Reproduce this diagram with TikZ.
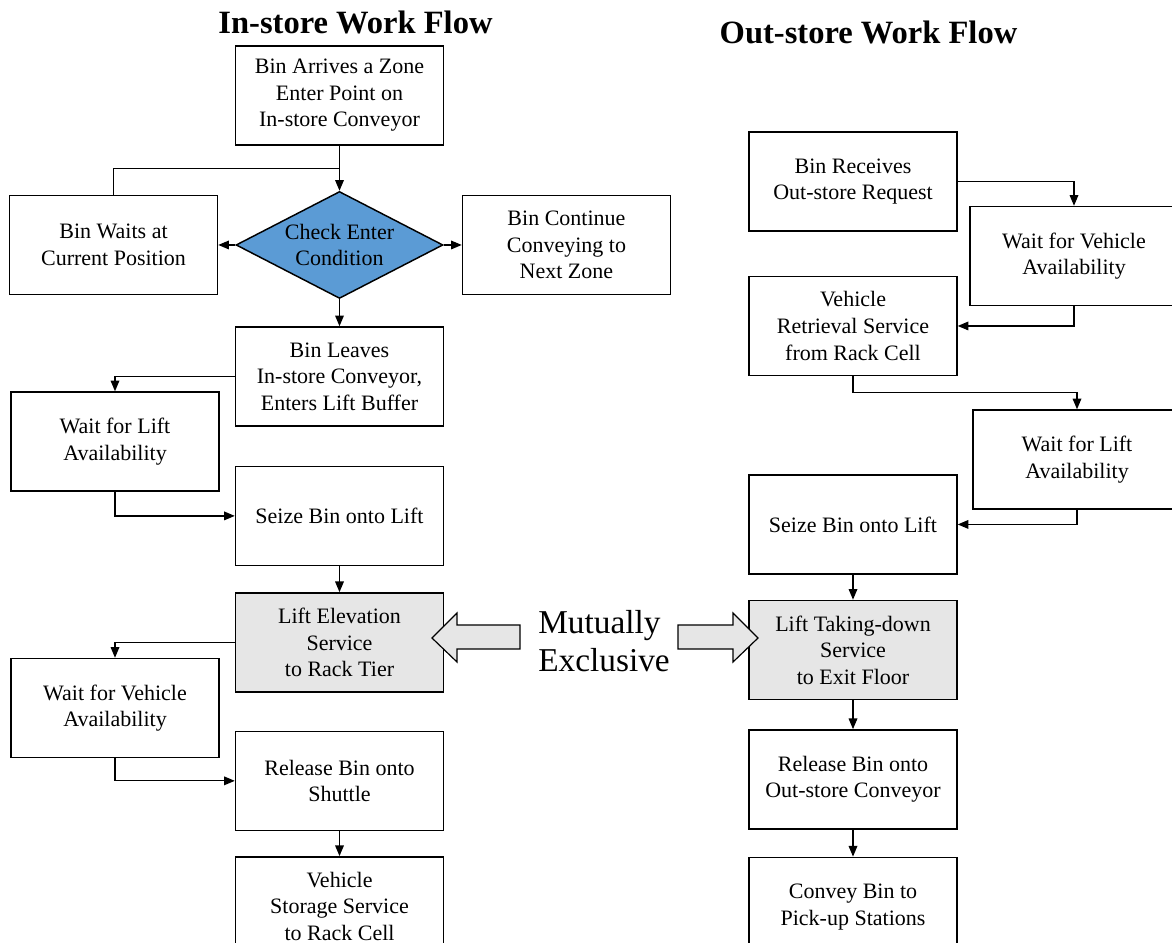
\documentclass[tikz,border=0pt]{standalone}
\usepackage{fontspec}
\setmainfont{Liberation Serif}
\usetikzlibrary{arrows.meta,positioning,shapes.geometric,calc}
\definecolor{decblue}{HTML}{5B9BD5}
\definecolor{boxgray}{HTML}{E6E6E6}
\tikzset{
  >={Triangle[length=8pt,width=6.5pt]},
  line/.style      = {->, line width=0.9pt},
  link/.style      = {line width=0.9pt},
  block/.style     = {rectangle, draw, line width=1.1pt, align=center, inner sep=2pt, minimum width=156pt, minimum height=74.25pt, fill=white, font=\fontsize{16.5pt}{19.9pt}\selectfont},
  grayblock/.style = {block, fill=boxgray},
  decision/.style  = {diamond, draw, line width=1.1pt, fill=decblue, minimum width=155.25pt, minimum height=80.25pt, inner sep=0pt},
  heading/.style   = {font=\fontsize{24.4pt}{28pt}\selectfont\bfseries},
  bigtext/.style   = {align=left, inner sep=0pt, font=\fontsize{25pt}{29pt}\selectfont},
  hollow/.style    = {draw, line width=0.9pt, fill=boxgray}
}

\begin{document}
\begin{tikzpicture}[x=0.75pt, y=-0.75pt]
\useasboundingbox (0,0) rectangle (1172,943);

% Titles
\node[heading, anchor=base] (tin) at (355.5,33) {In-store Work Flow};
\node[heading, anchor=base] (tout) at (868.5,43) {Out-store Work Flow};


% In-store column
\node[block] (arr) at (339.5,95.5) {Bin Arrives a Zone\\Enter Point on\\In-store Conveyor};
\node[decision, below=33.75pt of arr, label={[align=center, font=\fontsize{16.5pt}{19.9pt}\selectfont]center:Check Enter\\Condition}] (chk) {};
\node[block, left=12.75pt of chk] (hold) {Bin Waits at\\Current Position};
\node[block, right=13.5pt of chk] (next) {Bin Continue\\Conveying to\\Next Zone};
\node[block, below=20.25pt of chk] (leave) {Bin Leaves\\In-store Conveyor,\\Enters Lift Buffer};
\node[block, below=29.25pt of leave] (seizeL) {Seize Bin onto Lift};
\node[grayblock, below=19.5pt of seizeL] (liftL) {Lift Elevation\\Service\\to Rack Tier};
\node[block, below=28.5pt of liftL] (relL) {Release Bin onto\\Shuttle};
\node[block, below=18.75pt of relL] (storeL) {Vehicle\\Storage Service\\to Rack Cell};

% In-store waits
\node[block] (wliftL) at (115,441.5) {Wait for Lift\\Availability};
\node[block] (wvehL) at (115,708) {Wait for Vehicle\\Availability};


% Out-store column
\node[block] (recv) at (853,181.5) {Bin Receives\\Out-store Request};
\node[block, below=33pt of recv] (retr) {Vehicle\\Retrieval Service\\from Rack Cell};
\node[block, below=73.5pt of retr] (seizeR) {Seize Bin onto Lift};
\node[grayblock, below=18.75pt of seizeR] (liftR) {Lift Taking-down\\Service\\to Exit Floor};
\node[block, below=21.75pt of liftR] (relR) {Release Bin onto\\Out-store Conveyor};
\node[block, below=20.25pt of relR] (convR) {Convey Bin to\\Pick-up Stations};

% Out-store waits
\node[block] (wvehR) at (1074,256) {Wait for Vehicle\\Availability};
\node[block] (wliftR) at (1077,459.5) {Wait for Lift\\Availability};


% Middle note
\node[bigtext, anchor=west] (mutex) at (538,641) {Mutually\\Exclusive};
\draw[hollow] (432,638) -- ++(25,-25) -- ++(0,12) -- ++(63,0) -- ++(0,24) -- ++(-63,0) -- ++(0,13) -- cycle;
\draw[hollow] (758,638) -- ++(-25,-25) -- ++(0,12) -- ++(-55,0) -- ++(0,24) -- ++(55,0) -- ++(0,13) -- cycle;


% Connections in-store
\draw[line] (arr) -- (chk);
\draw[link] (hold.north) |- ($(arr.south)!.5!(chk.north)$);
\draw[line] (chk) -- (hold);
\draw[line] (chk) -- (next);
\draw[line] (chk) -- (leave);
\draw[line] (leave.west) -| (wliftL.north);
\draw[line] (wliftL.south) |- (seizeL.west);
\draw[line] (seizeL) -- (liftL);
\draw[line] (liftL.west) -| (wvehL.north);
\draw[line] (wvehL.south) |- (relL.west);
\draw[line] (relL) -- (storeL);

% Connections out-store
\draw[line] (recv.east) -| (wvehR.north);
\draw[line] (wvehR.south) |- (retr.east);
\draw[line] (retr.south) |- ($(retr.south)!.5!(wliftR.north)$) -| (wliftR.north);
\draw[line] (wliftR.south) |- (seizeR.east);
\draw[line] (seizeR) -- (liftR);
\draw[line] (liftR) -- (relR);
\draw[line] (relR) -- (convR);

\end{tikzpicture}
\end{document}
